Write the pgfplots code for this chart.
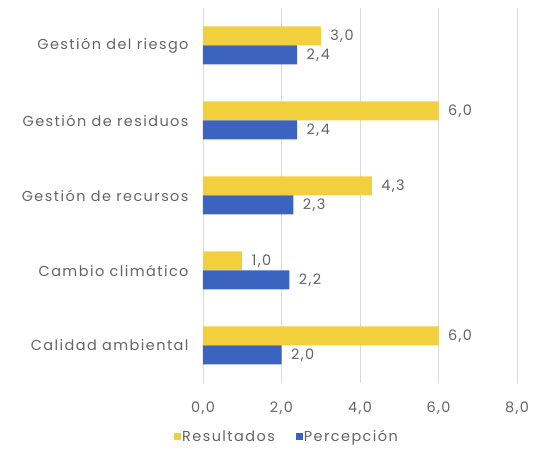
\documentclass[border=0pt]{standalone}
\usepackage{pgfplots}
\pgfplotsset{compat=1.18}
\usepackage{fontspec}
\setmainfont{Poppins}[LetterSpace=10]
\definecolor{ylw}{RGB}{242,207,60}
\definecolor{blu}{RGB}{61,99,192}
\definecolor{txt}{RGB}{100,100,100}
\definecolor{grd}{RGB}{217,217,217}
\newcommand{\lblfont}{\fontsize{14.5}{16}\selectfont}
\begin{document}
\begin{tikzpicture}[x=1bp,y=1bp]
\begin{axis}[
  at={(0,0)}, anchor=south west,
  scale only axis, width=314bp, height=375bp,
  xbar, bar width=19bp,
  xmin=0, xmax=8, ymin=-0.5, ymax=4.5,
  xtick={0,2,4,6,8},
  ytick={0,1,2,3,4},
  yticklabels={Calidad ambiental, Cambio climático, Gestión de recursos, Gestión de residuos, Gestión del riesgo},
  xmajorgrids, major grid style={grd, line width=0.8pt},
  axis line style={draw=none},
  major tick length=0pt,
  tick label style={font=\lblfont, text=txt},
  /pgf/number format/assume math mode=true,
  xticklabel style={/pgf/number format/fixed, /pgf/number format/fixed zerofill, /pgf/number format/precision=1, /pgf/number format/use comma},
  xticklabel shift=15bp,
  yticklabel shift=11bp,
  nodes near coords,
  nodes near coords style={font=\lblfont, text=txt, /pgf/number format/fixed, /pgf/number format/fixed zerofill, /pgf/number format/precision=1, /pgf/number format/use comma, /pgf/number format/assume math mode=true},
  every node near coord/.append style={xshift=6bp},
  legend columns=2,
  legend style={draw=none, inner sep=0pt, at={(axis description cs:0.266,-0.144)}, anchor=center, font=\lblfont, text=txt, /tikz/every even column/.append style={column sep=20bp}, nodes={inner sep=1pt}},
  legend image code/.code={\fill[#1] (2bp,-3.5bp) rectangle (9bp,3.5bp);},
]
\addplot[fill=ylw, draw=none, bar shift=9.5bp] coordinates {(6.0,0) (1.0,1) (4.3,2) (6.0,3) (3.0,4)};
\addplot[fill=blu, draw=none, bar shift=-9.5bp] coordinates {(2.0,0) (2.2,1) (2.3,2) (2.4,3) (2.4,4)};
\legend{Resultados, Percepción}
\end{axis}
\pgfresetboundingbox
\useasboundingbox (-203,-67) rectangle (331,383);
\end{tikzpicture}
\end{document}
